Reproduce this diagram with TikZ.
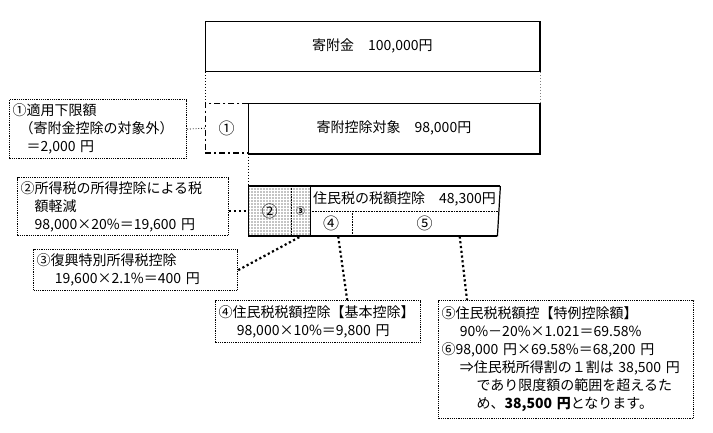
\documentclass[tikz,border=0pt]{standalone}
\usepackage{fontspec}
\setmainfont{Noto Sans CJK JP}
\usepackage{tikz}
\usetikzlibrary{patterns}

\newcommand{\boxfont}{\fontsize{14}{18}\selectfont}
\newcommand{\markfont}{\fontsize{16}{16}\selectfont}
\pgfdeclarepatternformonly{stipple}{\pgfqpoint{-1pt}{-1pt}}{\pgfqpoint{1pt}{1pt}}{\pgfqpoint{3pt}{3pt}}{\pgfpathcircle{\pgfqpoint{0pt}{0pt}}{.6pt}\pgfusepath{fill}}

\tikzset{
	notebox/.style={draw, line width=1.2pt, dash pattern=on 1.2pt off 1pt, anchor=north west, align=left, inner sep=3pt, font=\boxfont},
	cell/.style={anchor=north west, inner sep=0pt, font=\boxfont},
	markcell/.style={cell, font=\markfont},
	thinlink/.style={line width=0.8pt, dotted},
	link/.style={line width=2.2pt, dash pattern=on 2.2pt off 2.6pt},
	gapline/.style={line width=0.6pt, dash pattern=on 1.5pt off 1.5pt},
	dashdot/.style={dash pattern=on 6pt off 3pt on 2pt off 3pt}
}

\begin{document}
\begin{tikzpicture}[x=1pt,y=-1pt]
		\useasboundingbox (0,0) rectangle (713,432);
		\node[cell, draw, line width=0.8pt, minimum width=334pt, minimum height=50pt] (gift) at (205,21) {寄附金\quad 100,000円};
		\node[markcell, minimum width=43pt, minimum height=50pt] (lowlim) at (205,103) {①};
		\node[cell, draw, line width=0.8pt, minimum width=291pt, minimum height=50pt] (target) at (248,103) {寄附控除対象\quad 98,000円};
		\draw[line width=0.8pt, dashdot] (lowlim.north east) -- (lowlim.north west) -- (lowlim.south west);
		\draw[line width=2pt, dashdot] (lowlim.south west) -- (lowlim.south east);
		\draw[line width=2pt] (target.south west) -- (target.south east) -- (target.north east);
		\draw[line width=1.4pt] (gift.south east) -- (gift.north east);
		\draw[gapline] (gift.south west) -- (lowlim.north west);
		\draw[gapline, black!50] (gift.south east) -- (target.north east);
		
		\node[markcell, pattern=stipple, minimum width=43pt, minimum height=50pt] (inc) at (248,186) {②};
		\node[cell, pattern=stipple, minimum width=19pt, minimum height=50pt, font=\fontsize{9}{9}\selectfont\bfseries] (rec) at (291,186) {③};
		\node[cell, minimum width=187pt, minimum height=25pt, text width=184pt, inner xsep=3pt, align=left] (res) at (310,186) {\mbox{住民税の税額控除\quad 48,300円}};
		\node[markcell, minimum width=42pt, minimum height=25pt] (basic) at (310,211) {④};
		\node[markcell, minimum width=145pt, minimum height=25pt] (special) at (352,211) {⑤};
		\draw[gapline] (target.south west) -- (inc.north west);
		\draw[line width=0.8pt] (inc.north west) -- (inc.south west);
		\draw[line width=1.2pt] (res.north east) -- (special.south east);
		\draw[line width=2pt] (inc.north west) -- (res.north east);
		\draw[line width=2pt] (inc.south west) -- (special.south east);
		\draw[line width=0.6pt, densely dotted] (inc.north east) -- (inc.south east);
		\draw[line width=0.8pt] (rec.north east) -- (rec.south east);
		\draw[line width=0.6pt, densely dotted] (basic.north west) -- (special.north east);
		\draw[line width=0.6pt, densely dotted] (basic.north east) -- (basic.south east);
		
		\node[notebox, text width=171pt, minimum height=59pt] (lowbox) at (9,99) {①適用下限額\\\hspace*{0.5em}（寄附金控除の対象外）\\\hspace*{1em}＝2,000 円};
		\node[notebox, text width=205pt, minimum height=58pt] (incbox) at (17,177) {②所得税の所得控除による税\\\hspace*{1em}額軽減\\\hspace*{1em}98,000×20\%＝19,600 円};
		\node[notebox, text width=198pt, minimum height=41pt] (recbox) at (33,249) {③復興特別所得税控除\\\hspace*{1.3em}19,600×2.1\%＝400 円};
		\node[notebox, text width=199pt, minimum height=42pt] (basicbox) at (215,300) {④住民税税額控除【基本控除】\\\hspace*{1.3em}98,000×10\%＝9,800 円};
		\node[notebox, text width=249pt, minimum height=118pt] (specialbox) at (438,300) {⑤住民税税額控【特例控除額】\\\hspace*{1.3em}90\%－20\%×1.021＝69.58\%\\⑥98,000 円×69.58\%＝68,200 円\\\hspace*{1.3em}⇒住民税所得割の１割は 38,500 円\\\hspace*{2.5em}であり限度額の範囲を超えるた\\\hspace*{2.5em}め、\textbf{38,500 円}となります。};
		
		\draw[thinlink] (lowbox.east) -- (lowlim.west);
		\draw[link] (incbox.east |- inc.west) -- (inc.west);
		\draw[link] (recbox.east) -- (rec.south);
		\draw[link] ([xshift=7pt]basic.south) -- ([xshift=-74pt]basicbox.north east);
		\draw[link] ([xshift=35pt]special.south) -- ([xshift=29pt]specialbox.north west);
		
		\end{tikzpicture}
\end{document}
